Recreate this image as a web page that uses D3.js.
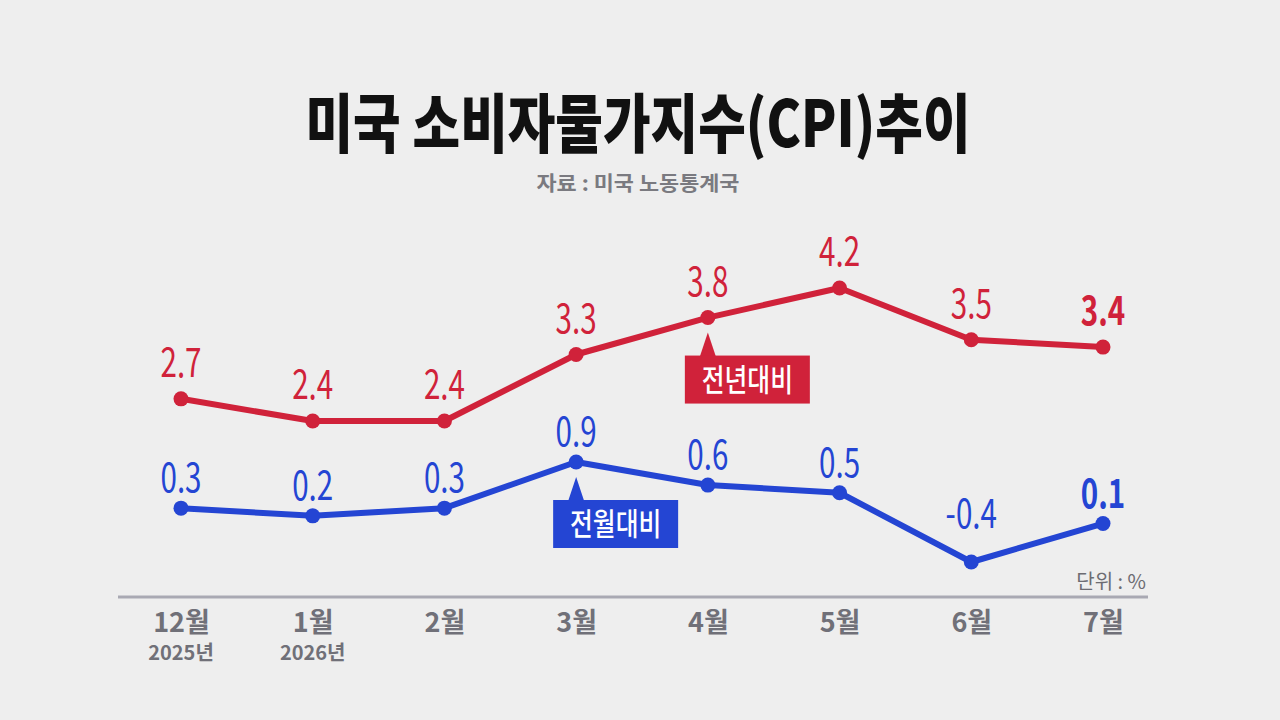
<!DOCTYPE html>
<html>
<head>
  <meta charset="UTF-8">
  <style>
    body { margin: 0; background: #eeeeee; }
    svg { display: block; }
    text { font-family: "Noto Sans CJK KR", "Noto Sans", sans-serif; }
  </style>
</head>
<body>
  <svg width="1280" height="720"></svg>
  <script src="https://d3js.org/d3.v7.min.js"></script>
  <script>
    // 데이터
    const months = ['12월', '1월', '2월', '3월', '4월', '5월', '6월', '7월'];
    const yearLabels = ['2025년', '2026년', '', '', '', '', '', ''];
    const yoy = [2.7, 2.4, 2.4, 3.3, 3.8, 4.2, 3.5, 3.4];   // 전년대비
    const mom = [0.3, 0.2, 0.3, 0.9, 0.6, 0.5, -0.4, 0.1];  // 전월대비
    const seriesNames = ['전년대비', '전월대비'];

    const red = '#d0223a';
    const blue = '#2445d3';
    const grey = '#707078';

    const svg = d3.select('svg');

    svg.append('rect')
      .attr('width', 1280).attr('height', 720)
      .attr('fill', '#eeeeee');

    // 제목
    svg.append('text')
      .attr('x', 638).attr('y', 147)
      .attr('text-anchor', 'middle')
      .attr('font-size', 64)
      .attr('font-weight', 900)
      .attr('textLength', 665)
      .attr('lengthAdjust', 'spacingAndGlyphs')
      .attr('fill', '#111')
      .text('미국 소비자물가지수(CPI)추이');

    svg.append('text')
      .attr('x', 638).attr('y', 191)
      .attr('text-anchor', 'middle')
      .attr('font-size', 20)
      .attr('font-weight', 700)
      .attr('textLength', 203)
      .attr('lengthAdjust', 'spacingAndGlyphs')
      .attr('fill', '#7a7a80')
      .text('자료 : 미국 노동통계국');

    // 스케일
    const x = d3.scalePoint().domain(months).range([181, 1103]);
    const yRed = d3.scaleLinear().domain([2.4, 4.2]).range([421, 288]);
    const yBlue = d3.scaleLinear().domain([-0.4, 0.9]).range([562, 462]);
    const fmt = d3.formatLocale({
      decimal: '.', thousands: ',', grouping: [3], currency: ['', ''], minus: '-'
    }).format('.1f');

    // x축
    const axisY = 597;
    svg.append('line')
      .attr('x1', 118).attr('x2', 1148)
      .attr('y1', axisY).attr('y2', axisY)
      .attr('stroke', '#a9a9b3')
      .attr('stroke-width', 3);

    const axis = svg.append('g')
      .attr('transform', `translate(0,${axisY})`)
      .call(d3.axisBottom(x).tickSize(0).tickPadding(16));
    axis.select('.domain').remove();
    axis.selectAll('text')
      .attr('font-family', '"Noto Sans CJK KR", sans-serif')
      .attr('font-size', 27)
      .attr('font-weight', 700)
      .attr('fill', grey);

    svg.append('g').selectAll('text')
      .data(yearLabels)
      .join('text')
      .attr('x', (d, i) => x(months[i]))
      .attr('y', 660)
      .attr('text-anchor', 'middle')
      .attr('font-size', 20)
      .attr('font-weight', 700)
      .attr('fill', grey)
      .text(d => d);

    svg.append('text')
      .attr('x', 1146).attr('y', 589)
      .attr('text-anchor', 'end')
      .attr('font-size', 20)
      .attr('fill', '#6c6c72')
      .text('단위 : %');

    // 시리즈 그리기
    function drawSeries(values, y, color, labelOffset) {
      const g = svg.append('g');
      const line = d3.line()
        .x((d, i) => x(months[i]))
        .y(d => y(d));

      g.append('path')
        .datum(values)
        .attr('d', line)
        .attr('fill', 'none')
        .attr('stroke', color)
        .attr('stroke-width', 6)
        .attr('stroke-linejoin', 'round');

      g.selectAll('circle')
        .data(values)
        .join('circle')
        .attr('cx', (d, i) => x(months[i]))
        .attr('cy', d => y(d))
        .attr('r', 7.5)
        .attr('fill', color);

      g.selectAll('text')
        .data(values)
        .join('text')
        .attr('transform', (d, i) => {
          const off = d < 0 ? 34 : labelOffset;
          return `translate(${x(months[i])},${y(d) - off}) scale(0.74,1)`;
        })
        .attr('text-anchor', 'middle')
        .attr('font-size', 40)
        .attr('font-weight', (d, i) => i === values.length - 1 ? 700 : 400)
        .attr('fill', color)
        .text(d => fmt(d));
    }

    drawSeries(yoy, yRed, red, 22);
    drawSeries(mom, yBlue, blue, 16);

    // 범례 박스
    function drawTag(name, cx, cy, color) {
      const g = svg.append('g').attr('transform', `translate(${cx},${cy})`);
      g.append('path')
        .attr('d', 'M0,15 L8,39 L-8,39 Z')
        .attr('fill', color);
      g.append('rect')
        .attr('x', -23).attr('y', 38)
        .attr('width', 125).attr('height', 48)
        .attr('fill', color);
      g.append('text')
        .attr('transform', 'translate(39.5,73) scale(0.8,1)')
        .attr('text-anchor', 'middle')
        .attr('font-size', 31)
        .attr('font-weight', 500)
        .attr('fill', '#fff')
        .text(name);
    }

    drawTag(seriesNames[0], x(months[4]), yRed(yoy[4]), red);
    drawTag(seriesNames[1], x(months[3]), yBlue(mom[3]), blue);
  </script>
</body>
</html>
